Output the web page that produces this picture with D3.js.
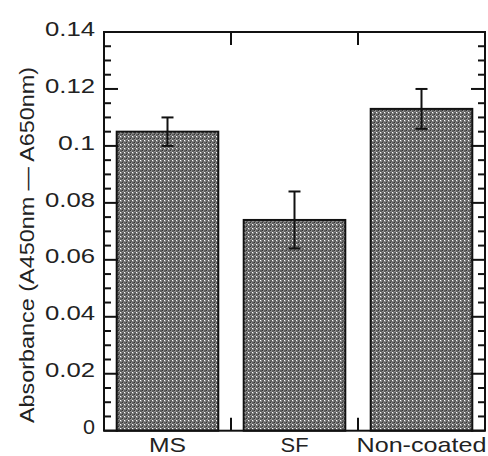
<!DOCTYPE html>
<html><head><meta charset="utf-8">
<script src="https://cdn.jsdelivr.net/npm/d3@7/dist/d3.min.js"></script>
<style>body{margin:0;background:#fff}svg{display:block}text{font-family:"Liberation Sans",Arial,sans-serif;fill:#222}</style>
</head><body><svg id="c" width="488" height="456"></svg>
<script>
const categories = ["MS", "SF", "Non-coated"];
const values = [0.105, 0.074, 0.113];
const errors = [0.005, 0.010, 0.007];
const yTicks = [0, 0.02, 0.04, 0.06, 0.08, 0.1, 0.12, 0.14];
const yTickLabels = ["0", "0.02", "0.04", "0.06", "0.08", "0.1", "0.12", "0.14"];
const yTitle = "Absorbance (A450nm \u2014 A650nm)";

const svg = d3.select("#c");
const m = {l:104, r:485, t:32, b:430.7};
const x = d3.scaleBand().domain(categories).range([m.l, m.r]).paddingInner(0.2).paddingOuter(0.1);
const xb = d3.scaleBand().domain(categories).range([m.l, m.r]);
const y = d3.scaleLinear().domain([0, 0.14]).range([m.b, m.t]);

const defs = svg.append("defs");
const p = defs.append("pattern").attr("id","hatch").attr("patternUnits","userSpaceOnUse").attr("width",4).attr("height",4);
p.append("rect").attr("width",4).attr("height",4).attr("fill","#5e5e5e");
p.append("rect").attr("x",0).attr("y",0).attr("width",2).attr("height",2).attr("fill","#8c8c8c");
p.append("rect").attr("x",2).attr("y",2).attr("width",2).attr("height",2).attr("fill","#8c8c8c");
p.append("rect").attr("x",0).attr("y",0).attr("width",1).attr("height",1).attr("fill","#fff");
p.append("rect").attr("x",2).attr("y",2).attr("width",1).attr("height",1).attr("fill","#333");

// bars
svg.selectAll("rect.bar").data(categories).join("rect").attr("class","bar")
  .attr("x", d=>x(d)).attr("width", x.bandwidth())
  .attr("y", (d,i)=>y(values[i])).attr("height", (d,i)=>y(0)-y(values[i]))
  .attr("fill","url(#hatch)").attr("stroke","#111").attr("stroke-width",2);

// error bars
const eb = svg.append("g").attr("stroke","#111").attr("stroke-width",2);
categories.forEach((c,i)=>{
  const cx = x(c) + x.bandwidth()/2;
  eb.append("line").attr("x1",cx).attr("x2",cx).attr("y1",y(values[i]+errors[i])).attr("y2",y(values[i]-errors[i]));
  [values[i]+errors[i], values[i]-errors[i]].forEach(v=>{
    eb.append("line").attr("x1",cx-6).attr("x2",cx+6).attr("y1",y(v)).attr("y2",y(v));
  });
});

// frame
svg.append("rect").attr("x",m.l).attr("y",m.t).attr("width",m.r-m.l).attr("height",m.b-m.t)
  .attr("fill","none").attr("stroke","#111").attr("stroke-width",2);

// y axis ticks (left + right) with minor ticks
const minor = d3.range(0, 0.1401, 0.005);
const tg = svg.append("g").attr("stroke","#111").attr("stroke-width",2);
minor.forEach(v=>{
  const isMajor = Math.abs(Math.round(v/0.02)*0.02 - v) < 1e-9;
  const len = isMajor ? 14 : 7;
  tg.append("line").attr("x1",m.l).attr("x2",m.l+len).attr("y1",y(v)).attr("y2",y(v));
  tg.append("line").attr("x1",m.r).attr("x2",m.r-len).attr("y1",y(v)).attr("y2",y(v));
});
// x ticks at band boundaries
categories.slice(1).forEach(c=>{
  const bx = xb(c);
  tg.append("line").attr("x1",bx).attr("x2",bx).attr("y1",m.t).attr("y2",m.t+13);
  tg.append("line").attr("x1",bx).attr("x2",bx).attr("y1",m.b).attr("y2",m.b-13);
});

// y tick labels via axis
const yAxis = d3.axisLeft(y).tickValues(yTicks).tickFormat((d,i)=>yTickLabels[i]).tickSize(0).tickPadding(9);
const ya = svg.append("g").attr("transform",`translate(${m.l},0)`).call(yAxis);
ya.select(".domain").remove();
ya.selectAll("text").attr("font-size",21).attr("dy","0.15em")
  .style("font-family","'Liberation Sans',Arial,sans-serif").attr("fill","#222")
  .each(function(d,i){ const s = yTickLabels[i]; d3.select(this).attr("textLength", s.length===1?12:(s.length===3?37:50)).attr("lengthAdjust","spacingAndGlyphs"); });

// x labels via axis
const xAxis = d3.axisBottom(x).tickSize(0).tickPadding(6);
const xa = svg.append("g").attr("transform",`translate(0,${m.b})`).call(xAxis);
xa.select(".domain").remove();
xa.selectAll("text").attr("font-size",21).attr("dy","0.72em")
  .style("font-family","'Liberation Sans',Arial,sans-serif").attr("fill","#222")
  .each(function(d){ const w = {"MS":37,"SF":28,"Non-coated":130}[d]; d3.select(this).attr("textLength",w).attr("lengthAdjust","spacingAndGlyphs"); });

// y title
svg.append("text").attr("transform","translate(34,245) rotate(-90)").attr("text-anchor","middle")
  .attr("font-size",21).attr("textLength",356).attr("lengthAdjust","spacingAndGlyphs").text(yTitle);
</script></body></html>
